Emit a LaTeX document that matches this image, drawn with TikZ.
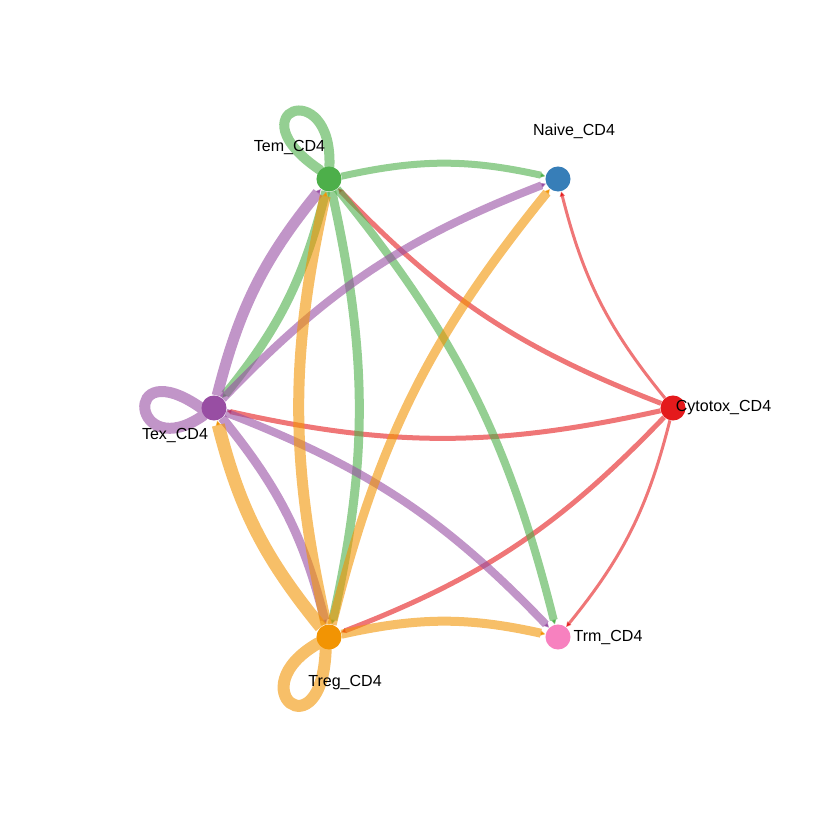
\documentclass[tikz,border=0pt]{standalone}
\usepackage{fontspec}
\setmainfont{Liberation Sans}
\usepackage{xcolor}
\usetikzlibrary{arrows.meta}
\usetikzlibrary{backgrounds}

\definecolor{cytocol}{HTML}{E41A1C}
\definecolor{naivecol}{HTML}{377EB8}
\definecolor{temcol}{HTML}{4DAF4A}
\definecolor{texcol}{HTML}{984EA3}
\definecolor{tregcol}{HTML}{F29403}
\definecolor{trmcol}{HTML}{F781BF}

\tikzset{
  cell/.style={circle, fill=#1, minimum size=17.8pt, inner sep=0pt},
  lbl/.style={font=\fontsize{11.4}{13}\selectfont, inner sep=0pt},
  flow/.style={draw=#1, draw opacity=0.6, bend left=12.5, -{Triangle[length=3.6pt,width=3.6pt]}},
  selfloop/.style={draw=#1, draw opacity=0.6, line cap=round},
  wd/.style={line width=#1*0.7113pt}
}

\begin{document}
\begin{tikzpicture}[x=0.025cm, y=0.025cm]

\useasboundingbox (0,0) rectangle (840,840);

% cell groups
\node[cell=cytocol] (cyto) at (673,432) {};
\node[cell=naivecol] (naive) at (558,661) {};
\node[cell=temcol] (tem) at (329,661) {};
\node[cell=texcol] (tex) at (214,432) {};
\node[cell=tregcol] (treg) at (329,203) {};
\node[cell=trmcol] (trm) at (558,203) {};

\node[lbl] (temlbl) at (289.5,692) {Tem\_CD4};
\node[lbl] (naivelbl) at (574,709) {Naive\_CD4};
\node[lbl] (cytolbl) at (723.5,432) {Cytotox\_CD4};
\node[lbl] (trmlbl) at (608,203) {Trm\_CD4};
\node[lbl] (treglbl) at (345,157) {Treg\_CD4};
\node[lbl] (texlbl) at (175,404) {Tex\_CD4};

\begin{pgfonlayer}{background}
% from Cytotox_CD4
\draw[flow=cytocol, wd=3] (cyto) to (naive);
\draw[flow=cytocol, wd=5] (cyto) to (tem);
\draw[flow=cytocol, wd=5] (cyto) to (tex);
\draw[flow=cytocol, wd=5] (cyto) to (treg);
\draw[flow=cytocol, wd=3] (cyto) to (trm);

% from Tem_CD4
\draw[selfloop=temcol, wd=10] (tem.135) .. controls +(146:105) and +(88:105) .. (tem);
\draw[flow=temcol, wd=7] (tem) to (naive);
\draw[flow=temcol, wd=9] (tem) to (tex);
\draw[flow=temcol, wd=9] (tem) to (treg);
\draw[flow=temcol, wd=8] (tem) to (trm);

% from Tex_CD4
\draw[selfloop=texcol, wd=11] (tex.180) .. controls +(145:100) and +(215:100) .. (tex);
\draw[flow=texcol, wd=11] (tex) to (tem);
\draw[flow=texcol, wd=8] (tex) to (naive);
\draw[flow=texcol, wd=9] (tex) to (treg);
\draw[flow=texcol, wd=8] (tex) to (trm);

% from Treg_CD4
\draw[selfloop=tregcol, wd=12] (treg.255) .. controls +(268:105) and +(210:105) .. (treg);
\draw[flow=tregcol, wd=11] (treg) to (tem);
\draw[flow=tregcol, wd=13] (treg) to (tex);
\draw[flow=tregcol, wd=9] (treg) to (naive);
\draw[flow=tregcol, wd=9] (treg) to (trm);
\end{pgfonlayer}

\end{tikzpicture}
\end{document}
